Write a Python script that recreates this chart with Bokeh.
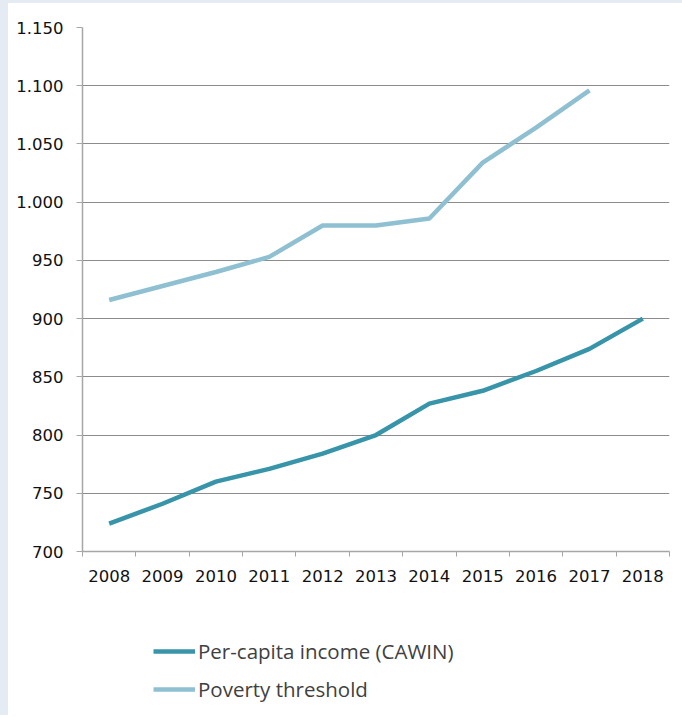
from bokeh.plotting import figure
from bokeh.layouts import column, row
from bokeh.models import FixedTicker, Legend, LegendItem, Range1d, Spacer
from bokeh.embed import file_html
from bokeh.resources import INLINE

years = [2008, 2009, 2010, 2011, 2012, 2013, 2014, 2015, 2016, 2017, 2018]
income = [724, 741, 760, 771, 784, 800, 827, 838, 855, 874, 900]
poverty_years = [2008, 2009, 2010, 2011, 2012, 2013, 2014, 2015, 2016, 2017]
poverty = [916, 928, 940, 953, 980, 980, 986, 1034, 1064, 1096]
y_ticks = [700, 750, 800, 850, 900, 950, 1000, 1050, 1100, 1150]
y_labels = ["700", "750", "800", "850", "900", "950", "1.000", "1.050", "1.100", "1.150"]
x_labels = [str(y) for y in years]
series_names = ["Per-capita income (CAWIN)", "Poverty threshold"]
series_colors = ["#3794a9", "#8fc0d2"]
frame_bg = "#e4ebf2"

p = figure(width=674, height=597, output_backend="svg", toolbar_location=None,
           x_range=Range1d(years[0] - 0.5, years[-1] + 0.5),
           y_range=Range1d(700, 1150),
           min_border_left=74, min_border_top=24, min_border_right=13,
           min_border_bottom=49)
p.outline_line_color = None
p.background_fill_color = "white"
p.border_fill_color = "white"

p.line(years, income, line_color=series_colors[0], line_width=4.5)
p.line(poverty_years, poverty, line_color=series_colors[1], line_width=4.5)

# axes
p.xaxis.ticker = FixedTicker(ticks=years,
                             minor_ticks=[y - 0.5 for y in years] + [years[-1] + 0.5])
p.xaxis.major_label_overrides = {y: s for y, s in zip(years, x_labels)}
p.xaxis.major_tick_line_color = None
p.xaxis.major_tick_out = 5
p.xaxis.major_tick_in = 0
p.xaxis.minor_tick_line_color = "#a6a6a6"
p.xaxis.minor_tick_out = 5
p.xaxis.minor_tick_in = 0
p.xaxis.axis_line_color = "#a6a6a6"
p.xaxis.major_label_standoff = 13

p.yaxis.ticker = FixedTicker(ticks=y_ticks)
p.yaxis.major_label_overrides = {t: s for t, s in zip(y_ticks, y_labels)}
p.yaxis.major_tick_line_color = "#a6a6a6"
p.yaxis.major_tick_out = 6
p.yaxis.major_tick_in = 0
p.yaxis.minor_tick_line_color = None
p.yaxis.axis_line_color = "#a6a6a6"
p.yaxis.major_label_standoff = 13

for ax in (p.xaxis, p.yaxis):
    ax.major_label_text_font = "DejaVu Sans"
    ax.major_label_text_font_size = "16.5px"
    ax.major_label_text_color = "#111111"
    ax.axis_line_width = 1.5

p.xgrid.grid_line_color = None
p.ygrid.grid_line_color = "#8c8c8c"
p.ygrid.grid_line_width = 1.2

# legend panel (frame is aligned with the chart's frame in the column)
lg = figure(width=674, height=115, output_backend="svg", toolbar_location=None,
            x_range=Range1d(0, 1), y_range=Range1d(0, 1),
            min_border=0, x_axis_type=None, y_axis_type=None)
lg.outline_line_color = None
lg.grid.grid_line_color = None
lg.border_fill_color = "white"
r1 = lg.line([-10, -9], [-10, -10], line_color=series_colors[0], line_width=4.5)
r2 = lg.line([-10, -9], [-10, -10], line_color=series_colors[1], line_width=4.5)

legend = Legend(items=[LegendItem(label=series_names[0], renderers=[r1]),
                       LegendItem(label=series_names[1], renderers=[r2])],
                location=(71, 12), orientation="vertical")
legend.border_line_color = None
legend.background_fill_alpha = 0
legend.padding = 0
legend.margin = 0
legend.spacing = 10
legend.glyph_width = 42
legend.glyph_height = 20
legend.label_height = 20
legend.label_standoff = 3
legend.label_text_font = "Open Sans"
legend.label_text_font_size = "20.5px"
legend.label_text_color = "#404040"
lg.add_layout(legend, "center")

top_strip = Spacer(width=682, height=3, styles={"background-color": frame_bg})
left_strip = Spacer(width=8, height=712, styles={"background-color": frame_bg})
layout = column(top_strip, row(left_strip, column(p, lg, spacing=0), spacing=0), spacing=0)
open("out.html", "w").write(file_html(layout, INLINE))
